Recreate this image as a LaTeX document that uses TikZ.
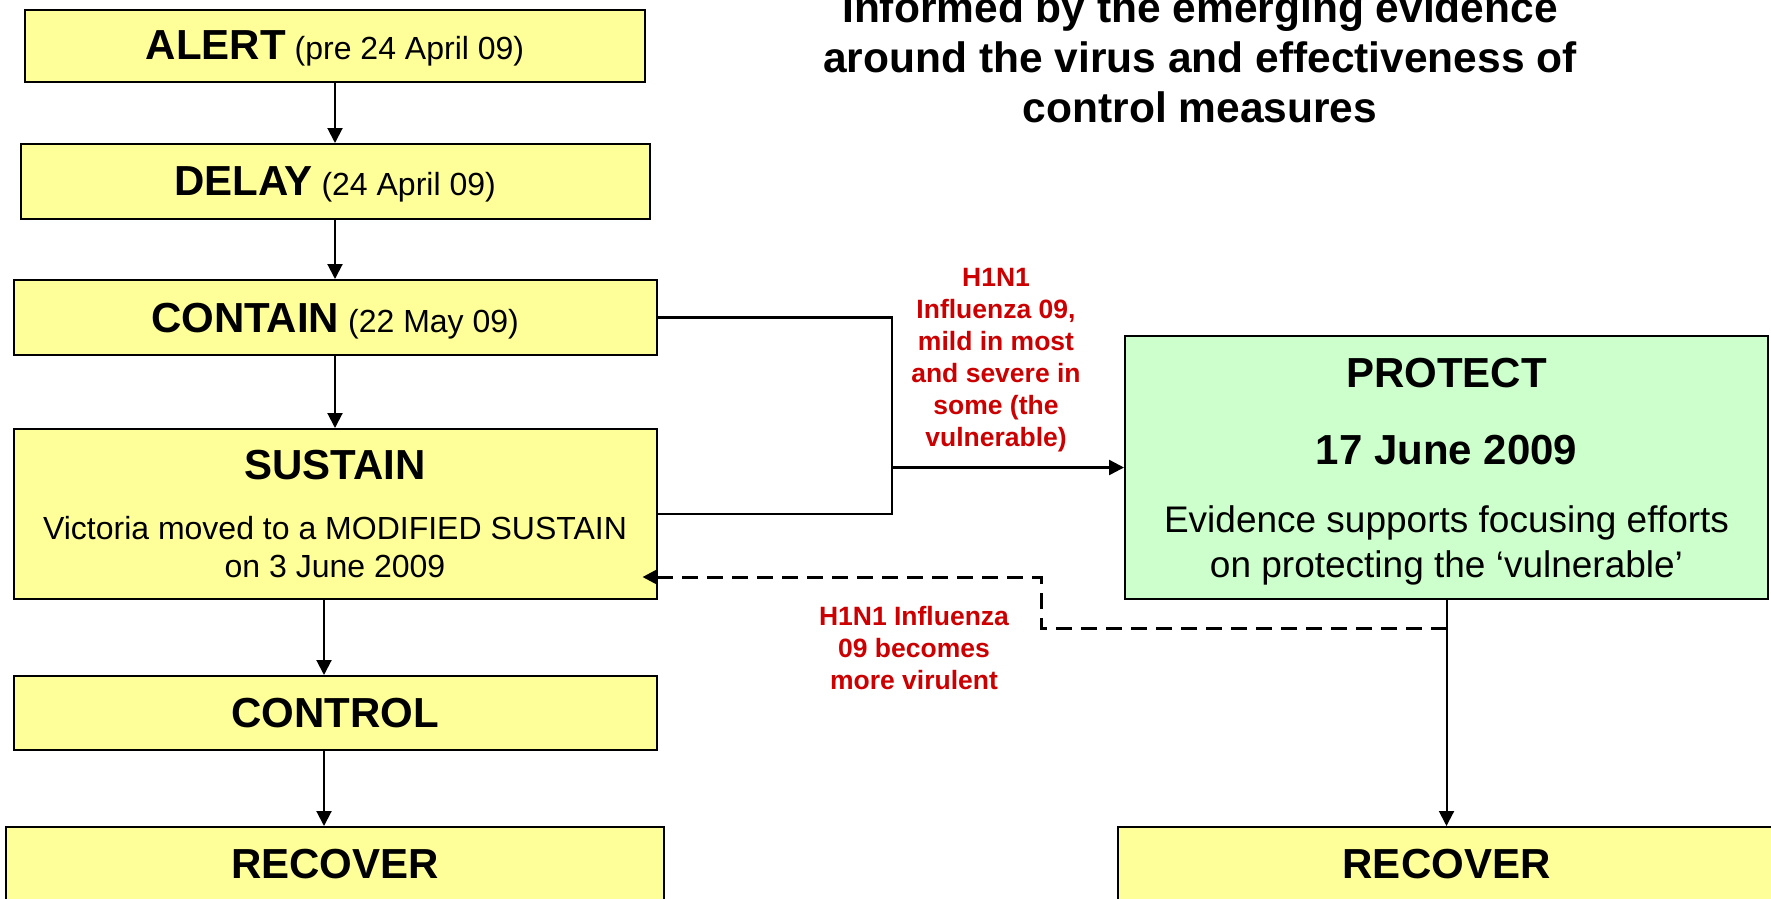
\documentclass[tikz,border=0pt]{standalone}
\usepackage{fontspec}
\setmainfont{Liberation Sans}
\usetikzlibrary{positioning, arrows.meta}
\definecolor{phaseyellow}{RGB}{255,255,153}
\definecolor{protectgreen}{RGB}{204,255,204}
\definecolor{noteRed}{RGB}{204,0,0}
\newcommand{\phasename}[1]{{\fontsize{42}{46}\selectfont\bfseries #1}}
\newcommand{\phasedate}[1]{{\fontsize{32}{38}\selectfont #1}}

\begin{document}
\begin{tikzpicture}[x=1pt,y=-1pt]
	\tikzstyle{phase}=[draw,line width=2pt,fill=phaseyellow,minimum width=643pt,minimum height=75pt,inner sep=0pt,font=\fontsize{32}{38}\selectfont,align=center,text depth=0pt];
	\tikzstyle{note}=[text=noteRed,font=\fontsize{26.5}{32}\selectfont\bfseries,align=center];
	\tikzstyle{arr}=[line width=2pt,-{Triangle[length=15pt,width=15pt]}];
	\tikzstyle{back}=[arr,line width=3pt,dash pattern=on 16pt off 9pt];
	\useasboundingbox (0,0) rectangle (1771,898);
	\node[font=\fontsize{42.5}{50}\selectfont\bfseries,align=center] (title) at (1200,57) {Informed by the emerging evidence\\around the virus and effectiveness of\\control measures};
	\node[phase,minimum width=620pt,minimum height=72pt] (alert) at (335,45.5) {\phasename{ALERT} \phasedate{(pre 24 April 09)}};
	\node[phase,minimum width=629pt] (delay) at (335,181.5) {\phasename{DELAY} \phasedate{(24 April 09)}};
	\node[phase] (contain) at (335,317.5) {\phasename{CONTAIN} \phasedate{(22 May 09)}};
	\node[phase,minimum height=170pt,text depth=-3pt] (sustain) at (335,514) {\phasename{SUSTAIN}\\[22pt]Victoria moved to a MODIFIED SUSTAIN\\on 3 June 2009};
	\node[phase,minimum height=74pt] (control) at (335,713) {\phasename{CONTROL}};
	\node[phase,minimum width=658pt,minimum height=73pt] (recover) at (335,863.5) {\phasename{RECOVER}};
	\node[phase,fill=protectgreen,minimum height=263pt,font=\fontsize{37}{45}\selectfont] (protect) at (1446.5,467.5) {\phasename{PROTECT}\\[32pt]\phasename{17 June 2009}\\[23pt]Evidence supports focusing efforts\\on protecting the ‘vulnerable’};
	\node[phase,minimum width=658pt,minimum height=73pt] (recoverB) at (1446.5,863.5) {\phasename{RECOVER}};
	\node[note] (mildnote) at (996,360) {H1N1\\Influenza 09,\\mild in most\\and severe in\\some (the\\vulnerable)};
	\node[note] (virulentnote) at (914,648) {H1N1 Influenza\\09 becomes\\more virulent};
	\coordinate (join) at (892,467.5);
	\coordinate (split) at (1446.5,628);
	\coordinate (kink) at (1041,577);
	\draw[arr] (alert) -- (delay);
	\draw[arr] (delay) -- (contain);
	\draw[arr] (contain) -- (sustain);
	\draw[arr] ([xshift=-11pt]sustain.south) -- ([xshift=-11pt]control.north);
	\draw[arr] ([xshift=-11pt]control.south) -- ([xshift=-11pt]recover.north);
	\draw[line width=2.4pt] (contain.east) -| (join) |- (sustain.east);
	\draw[arr,line width=2.4pt] (join) -- (protect.west);
	\draw[arr] (protect.south) -- (recoverB.north);
	\draw[back] (split) -| (kink) -- ([xshift=-15pt]kink -| sustain.east);
\end{tikzpicture}
\end{document}
